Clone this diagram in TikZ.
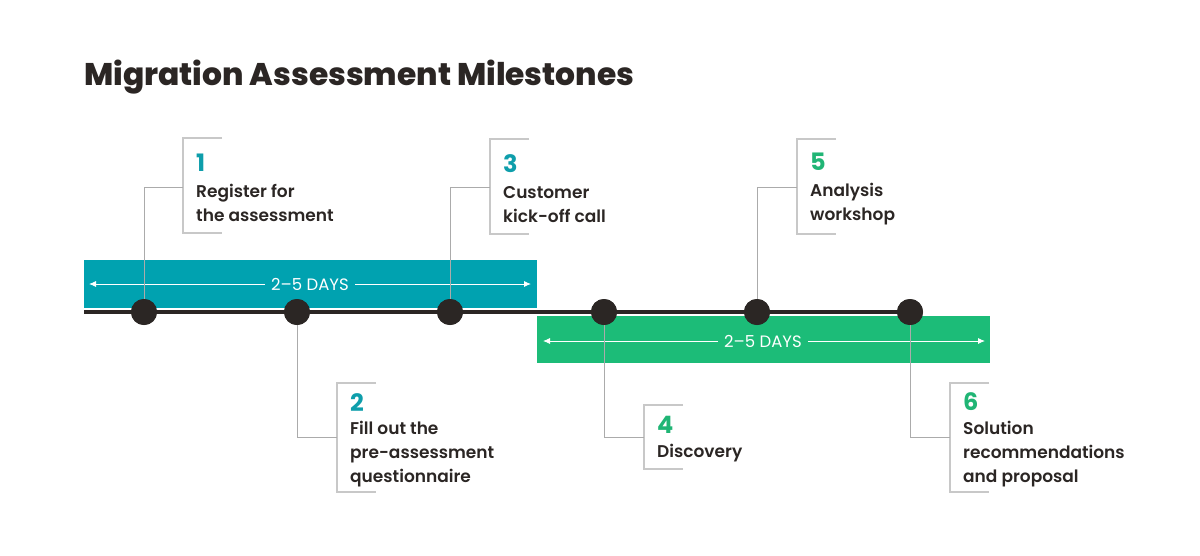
\documentclass[tikz,border=0pt]{standalone}
\usepackage{fontspec}
\setmainfont{Poppins}
\newfontfamily\titlefont{Poppins ExtraBold}
\newfontfamily\bodyfont{Poppins SemiBold}
\newfontfamily\numfont{Poppins Bold}
\newfontfamily\dayfont{Poppins}
\usetikzlibrary{arrows.meta}
\definecolor{tealc}{HTML}{00A2B0}
\definecolor{greenc}{HTML}{1CBC78}
\definecolor{darkc}{HTML}{2B2624}
\definecolor{linec}{HTML}{ABABAB}
\definecolor{brackc}{HTML}{C8C8C8}
\definecolor{tealnum}{HTML}{0E9EAB}
\definecolor{greennum}{HTML}{20B575}
\tikzset{
  dot/.style={circle,fill=darkc,minimum size=26pt,inner sep=0pt},
  conn/.style={draw=linec,line width=1pt},
  brack/.style={draw=brackc,line width=1.5pt},
  numtxt/.style={anchor=base west,inner sep=0pt,font=\numfont\fontsize{24}{24}\selectfont},
  bodytxt/.style={anchor=base west,inner sep=0pt,font=\bodyfont\fontsize{17}{24}\selectfont,align=left},
  daytxt/.style={inner xsep=6pt,inner ysep=0pt,text=white,font=\dayfont\fontsize{16.5}{16.5}\selectfont},
  dayarrow/.style={draw=white,line width=0.9pt,-{Latex[length=7pt,width=6pt]}},
}
\begin{document}
\begin{tikzpicture}[x=1pt,y=-1pt]
\useasboundingbox[fill=white] (0,0) rectangle (1200,555);
% title
\node[anchor=base west,inner sep=0pt,text=darkc,font=\titlefont\fontsize{31.3}{31.3}\selectfont] (title) at (84,85) {Migration Assessment Milestones};
% bars
\fill[tealc] (84,260) rectangle (537,308);
\fill[greenc] (537,316) rectangle (990,363);
\node[daytxt] (days1) at (310,284) {2–5 DAYS};
\node[daytxt] (days2) at (763,341) {2–5 DAYS};
\coordinate (a1l) at (89,284);
\coordinate (a1r) at (531,284);
\coordinate (a2l) at (543,341);
\coordinate (a2r) at (985,341);
\draw[dayarrow] (days1.west) -- (a1l);
\draw[dayarrow] (days1.east) -- (a1r);
\draw[dayarrow] (days2.west) -- (a2l);
\draw[dayarrow] (days2.east) -- (a2r);
% timeline
\coordinate (tstart) at (84,312);
\node[dot] (d1) at (144,312) {};
\node[dot] (d2) at (297,312) {};
\node[dot] (d3) at (450,312) {};
\node[dot] (d4) at (604,312) {};
\node[dot] (d5) at (757,312) {};
\node[dot] (d6) at (910,312) {};
% brackets
\coordinate (b1) at (183,187);
\coordinate (b3) at (490,187);
\coordinate (b5) at (797,187);
\coordinate (b2) at (337,437);
\coordinate (b4) at (644,437);
\coordinate (b6) at (950,437);
\draw[brack] (222,138) -- (183,138) -- (183,233) -- (222,233);
\draw[brack] (529,139) -- (490,139) -- (490,234) -- (529,234);
\draw[brack] (836,139) -- (797,139) -- (797,234) -- (836,234);
\draw[brack] (376,383) -- (337,383) -- (337,492) -- (376,492);
\draw[brack] (683,405) -- (644,405) -- (644,469) -- (683,469);
\draw[brack] (989,383) -- (950,383) -- (950,492) -- (989,492);
% connectors
\draw[conn] (d1.center) |- (b1);
\draw[conn] (d3.center) |- (b3);
\draw[conn] (d5.center) |- (b5);
\draw[conn] (d2.center) |- (b2);
\draw[conn] (d4.center) |- (b4);
\draw[conn] (d6.center) |- (b6);
\draw[draw=darkc,line width=4.5pt] (tstart) -- (d6.center);
\foreach \d in {d1,d2,d3,d4,d5,d6} \fill[darkc] (\d) circle (13pt);
% texts (base anchor = last line baseline)
\node[numtxt,text=tealnum] (n1) at (196,171) {1};
\node[bodytxt,text=darkc] (t1) at (196,221) {Register for\\the assessment};
\node[numtxt,text=tealnum] (n3) at (503,172) {3};
\node[bodytxt,text=darkc] (t3) at (503,222) {Customer\\kick-off call};
\node[numtxt,text=greennum] (n5) at (810,170) {5};
\node[bodytxt,text=darkc] (t5) at (810,220) {Analysis\\workshop};
\node[numtxt,text=tealnum] (n2) at (350,411) {2};
\node[bodytxt,text=darkc] (t2) at (350,482) {Fill out the\\pre-assessment\\questionnaire};
\node[numtxt,text=greennum] (n4) at (657,433) {4};
\node[bodytxt,text=darkc] (t4) at (657,457) {Discovery};
\node[numtxt,text=greennum] (n6) at (963,410) {6};
\node[bodytxt,text=darkc] (t6) at (963,482) {Solution\\recommendations\\and proposal};
\end{tikzpicture}
\end{document}
